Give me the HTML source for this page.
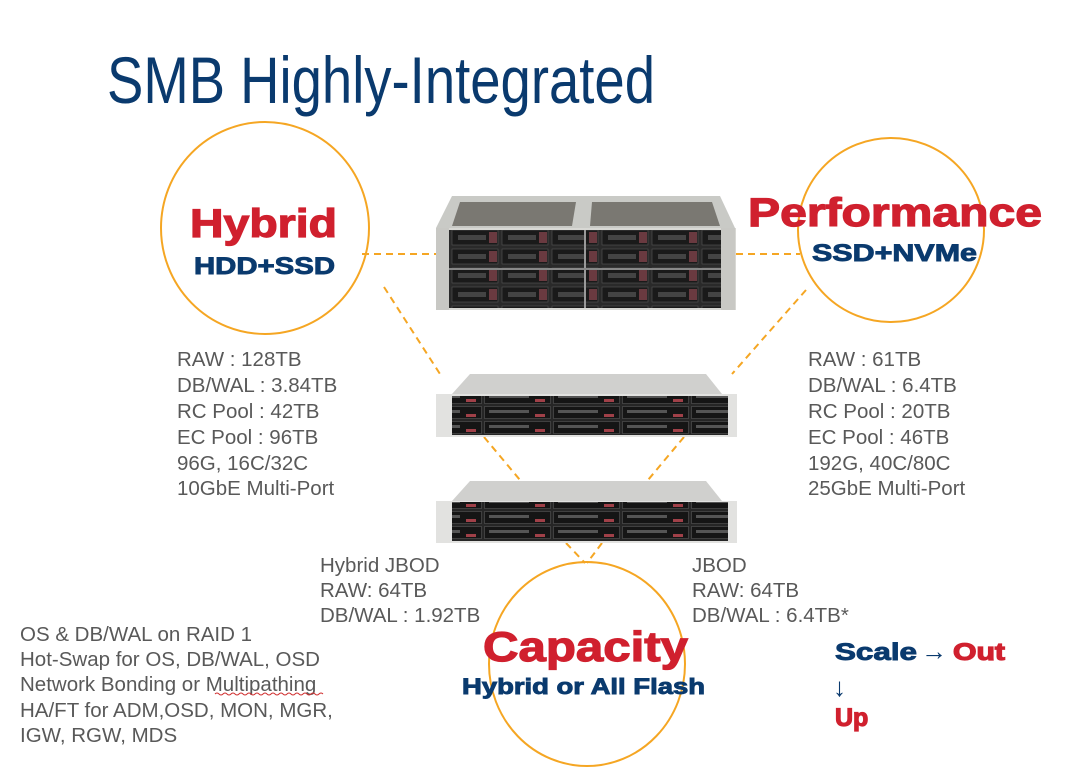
<!DOCTYPE html>
<html><head><meta charset="utf-8"><style>
html,body{margin:0;padding:0;background:#fff;}
svg{display:block}
text{font-family:"Liberation Sans",sans-serif}
.g{fill:#595959;font-size:20.5px}
.b{font-weight:bold}
.r{fill:#d0202e;stroke:#d0202e;stroke-width:1.2}
.n{fill:#0a3a6e;stroke:#0a3a6e;stroke-width:0.9}
</style></head><body>
<svg width="1065" height="767" viewBox="0 0 1065 767" xmlns="http://www.w3.org/2000/svg">
<defs>
<pattern id="bay" x="0" y="0" width="50" height="19" patternUnits="userSpaceOnUse">
<rect x="0" y="0" width="50" height="19" fill="#2a2a2a"/>
<rect x="2" y="2" width="46" height="15" fill="#1a1a1a" stroke="#555" stroke-width="0.6"/>
<rect x="8" y="7" width="28" height="5" fill="#444"/>
<rect x="39" y="4" width="8" height="11" fill="#6a3a40"/>
</pattern>
<pattern id="bay2" x="0" y="0" width="69" height="15" patternUnits="userSpaceOnUse">
<rect x="0" y="0" width="69" height="15" fill="#262626"/>
<rect x="1.5" y="1.5" width="66" height="12" fill="#151515" stroke="#555" stroke-width="0.6"/>
<rect x="6" y="5" width="40" height="3" fill="#555"/>
<rect x="52" y="9" width="10" height="3" fill="#a04048"/>
</pattern>
</defs>

<text x="107" y="103" font-size="66" fill="#0a3a6e" textLength="548" lengthAdjust="spacingAndGlyphs">SMB Highly-Integrated</text>

<ellipse cx="265" cy="228" rx="104" ry="106" fill="none" stroke="#f5a623" stroke-width="2"/>
<ellipse cx="891" cy="230" rx="93" ry="92" fill="none" stroke="#f5a623" stroke-width="2"/>
<ellipse cx="587" cy="664" rx="98" ry="102" fill="none" stroke="#f5a623" stroke-width="2"/>

<g stroke="#f5a623" stroke-width="2" stroke-dasharray="7,5" fill="none">
<line x1="362" y1="254" x2="436" y2="254"/>
<line x1="736" y1="254" x2="800" y2="254"/>
<line x1="384" y1="287" x2="440" y2="374"/>
<line x1="806" y1="290" x2="732" y2="374"/>
<line x1="484" y1="437" x2="520" y2="480"/>
<line x1="684" y1="437" x2="648" y2="480"/>
<line x1="566" y1="543" x2="585" y2="563"/>
<line x1="602" y1="543" x2="587" y2="563"/>
</g>

<polygon points="452,196 720,196 735,228 436,228" fill="#c9cac6"/>
<polygon points="460,202 576,202 572,226 452,226" fill="#7a7872"/>
<polygon points="592,202 712,202 720,226 590,226" fill="#7a7872"/>
<rect x="436" y="228" width="300" height="82" fill="#d8d8d4"/>
<rect x="449" y="230" width="272" height="78" fill="url(#bay)"/>
<rect x="436" y="228" width="13" height="82" fill="#c8c8c4"/>
<rect x="721" y="228" width="14" height="82" fill="#c8c8c4"/>
<line x1="585" y1="230" x2="585" y2="308" stroke="#999" stroke-width="2"/>
<line x1="449" y1="269" x2="721" y2="269" stroke="#888" stroke-width="2"/>

<polygon points="470,374 706,374 722,394 452,394" fill="#d0d0ce"/>
<rect x="436" y="394" width="301" height="43" fill="#e2e2e0"/>
<rect x="452" y="396" width="276" height="39" fill="url(#bay2)"/>
<polygon points="470,481 706,481 722,501 452,501" fill="#d0d0ce"/>
<rect x="436" y="501" width="301" height="42" fill="#e2e2e0"/>
<rect x="452" y="502" width="276" height="39" fill="url(#bay2)"/>

<text x="190" y="237" font-size="40" class="b r" textLength="147" lengthAdjust="spacingAndGlyphs">Hybrid</text>
<text x="194" y="274" font-size="24" class="b n" textLength="141" lengthAdjust="spacingAndGlyphs">HDD+SSD</text>
<text x="748" y="226" font-size="40" class="b r" textLength="294" lengthAdjust="spacingAndGlyphs">Performance</text>
<text x="812" y="261" font-size="24" class="b n" textLength="165" lengthAdjust="spacingAndGlyphs">SSD+NVMe</text>
<text x="483" y="661" font-size="42" class="b r" textLength="205" lengthAdjust="spacingAndGlyphs">Capacity</text>
<text x="462" y="694" font-size="22" class="b n" textLength="243" lengthAdjust="spacingAndGlyphs">Hybrid or All Flash</text>

<g class="g">
<text x="177" y="366">RAW : 128TB</text>
<text x="177" y="392">DB/WAL : 3.84TB</text>
<text x="177" y="418">RC Pool : 42TB</text>
<text x="177" y="444">EC Pool : 96TB</text>
<text x="177" y="470">96G, 16C/32C</text>
<text x="177" y="495">10GbE Multi-Port</text>
<text x="808" y="366">RAW : 61TB</text>
<text x="808" y="392">DB/WAL : 6.4TB</text>
<text x="808" y="418">RC Pool : 20TB</text>
<text x="808" y="444">EC Pool : 46TB</text>
<text x="808" y="470">192G, 40C/80C</text>
<text x="808" y="495">25GbE Multi-Port</text>
<text x="320" y="572">Hybrid JBOD</text>
<text x="320" y="597">RAW: 64TB</text>
<text x="320" y="622">DB/WAL : 1.92TB</text>
<text x="692" y="572">JBOD</text>
<text x="692" y="597">RAW: 64TB</text>
<text x="692" y="622">DB/WAL : 6.4TB*</text>
<text x="20" y="641">OS &amp; DB/WAL on RAID 1</text>
<text x="20" y="666">Hot-Swap for OS, DB/WAL, OSD</text>
<text x="20" y="691">Network Bonding or Multipathing</text>
<text x="20" y="717">HA/FT for ADM,OSD, MON, MGR,</text>
<text x="20" y="742">IGW, RGW, MDS</text>
</g>
<path d="M215,694 q2,-2 4,0 t4,0 t4,0 t4,0 t4,0 t4,0 t4,0 t4,0 t4,0 t4,0 t4,0 t4,0 t4,0 t4,0 t4,0 t4,0 t4,0 t4,0 t4,0 t4,0 t4,0 t4,0 t4,0 t4,0 t4,0 t4,0 t4,0" stroke="#d03030" stroke-width="1" fill="none"/>

<text x="835" y="660" font-size="24" class="b n" textLength="82" lengthAdjust="spacingAndGlyphs">Scale</text>
<text x="921" y="660" font-size="26" fill="#0a3a6e">→</text>
<text x="953" y="660" font-size="24" class="b r" textLength="52" lengthAdjust="spacingAndGlyphs">Out</text>
<text x="833" y="696" font-size="26" fill="#0a3a6e">↓</text>
<text x="835" y="726" font-size="25" class="b r">Up</text>
</svg>
</body></html>
